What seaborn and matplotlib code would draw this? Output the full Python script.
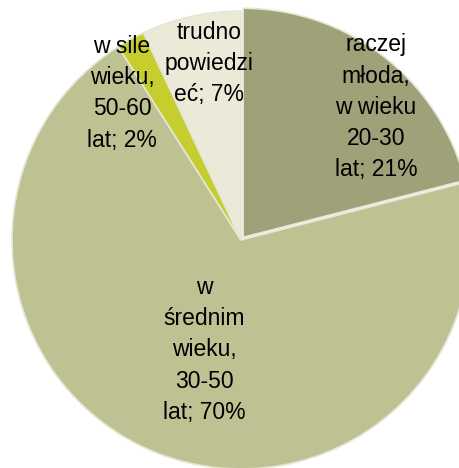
import matplotlib
matplotlib.use("Agg")
import matplotlib.pyplot as plt
import seaborn as sns

# Data
categories = [
    "raczej\nmłoda,\nw wieku\n20-30\nlat",
    "w\nśrednim\nwieku,\n30-50\nlat",
    "w sile\nwieku,\n50-60\nlat",
    "trudno\npowiedzi\neć",
]
values = [21, 70, 2, 7]
colors = ["#9fa179", "#bec293", "#c6cd2e", "#ebead8"]
explode = [0.015, 0, 0, 0]

# label centres (in pie-radius units)
label_pos = [(0.59, 0.58), (-0.16, -0.48), (-0.52, 0.64), (-0.14, 0.77)]

sns.set_style("white")
plt.rcParams["font.family"] = ["Liberation Sans", "DejaVu Sans"]

fig = plt.figure(figsize=(4.6, 4.68), dpi=100)
ax = fig.add_axes([0, 0, 1, 1])

labels = [f"{c}; {v}%" for c, v in zip(categories, values)]
wedges, texts = ax.pie(
    values,
    labels=labels,
    colors=colors,
    explode=explode,
    startangle=90,
    counterclock=False,
    radius=1.0,
    wedgeprops=dict(edgecolor="#e6e6d6", linewidth=1.2),
    textprops=dict(fontsize=16.5, color="black", ha="center", va="center", linespacing=1.45),
)
for t, pos in zip(texts, label_pos):
    t.set_position(pos)
    t.set_ha("center")
    t.set_va("center")

# pie centre at (241, 240) px, radius about 229 px
r = 229.0
ax.set_xlim(-241 / r, (460 - 241) / r)
ax.set_ylim(-(468 - 240) / r, 240 / r)
ax.set_aspect("auto")
ax.axis("off")

plt.savefig("out.png", dpi=100)
